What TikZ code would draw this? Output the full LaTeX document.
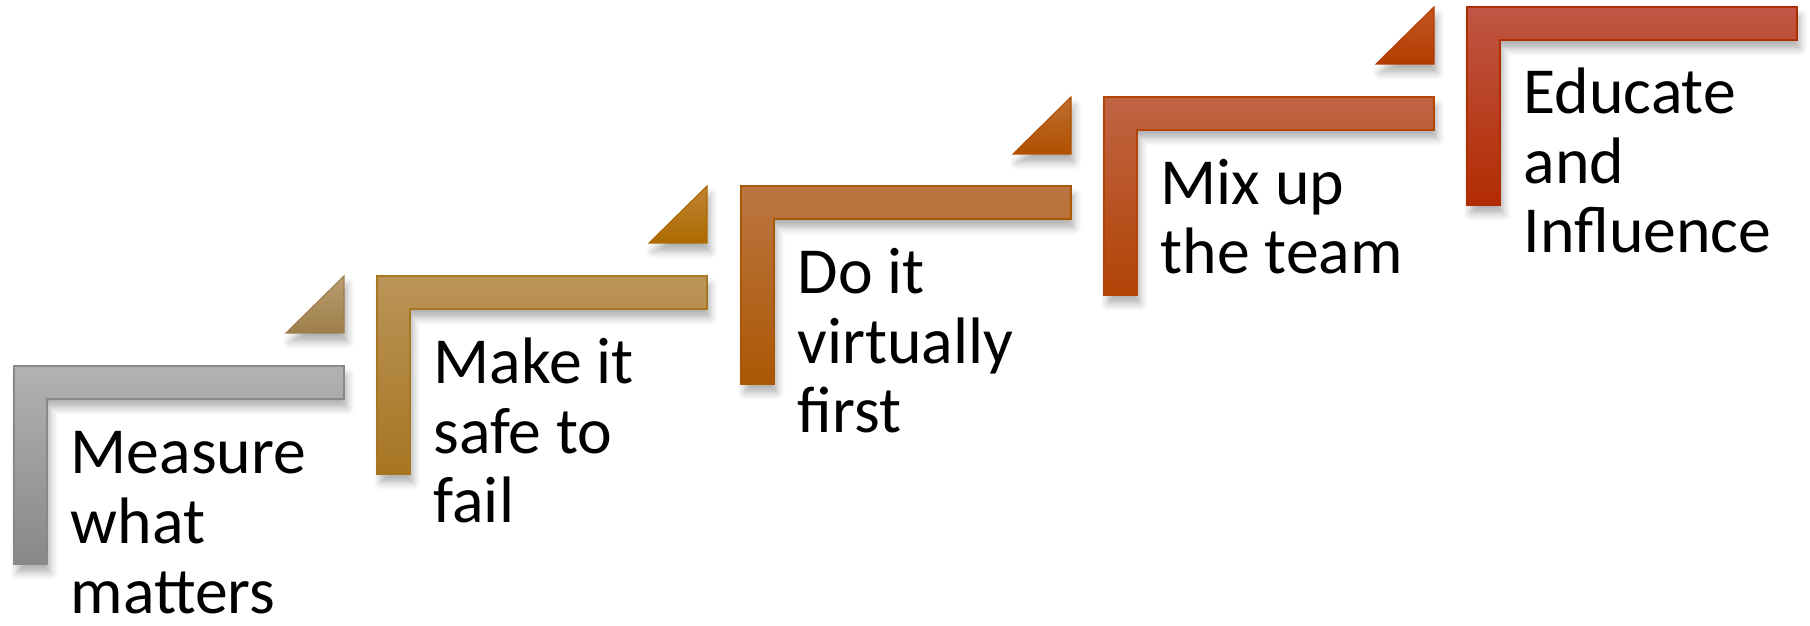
\documentclass[tikz,border=0pt]{standalone}
\usepackage{fontspec}
\setmainfont{Carlito}
\usepackage{tikz}
\usetikzlibrary{shadows.blur}

\definecolor{grayTop}{RGB}{178,178,178}
\definecolor{grayBot}{RGB}{136,136,136}
\definecolor{goldTop}{RGB}{187,148,88}
\definecolor{goldBot}{RGB}{166,118,34}
\definecolor{amberTop}{RGB}{188,118,66}
\definecolor{amberBot}{RGB}{170,88,4}
\definecolor{rustTop}{RGB}{192,100,68}
\definecolor{rustBot}{RGB}{178,68,6}
\definecolor{redTop}{RGB}{192,86,68}
\definecolor{redBot}{RGB}{178,44,2}
\definecolor{triOneTop}{RGB}{186,158,112}
\definecolor{triOneBot}{RGB}{158,126,74}
\definecolor{triTwoTop}{RGB}{192,132,52}
\definecolor{triTwoBot}{RGB}{172,106,0}
\definecolor{triThreeTop}{RGB}{190,110,50}
\definecolor{triThreeBot}{RGB}{176,80,0}
\definecolor{triFourTop}{RGB}{194,86,36}
\definecolor{triFourBot}{RGB}{180,60,0}

\begin{document}
\begin{tikzpicture}[x=0.1mm, y=-0.1mm,
		stair/.style 2 args={top color=#1, bottom color=#2, draw=#2, line width=0.3pt,
			blur shadow={shadow xshift=1pt, shadow yshift=-2.5pt, shadow blur radius=2pt, shadow opacity=30, shadow blur steps=6}},
		steptext/.style={anchor=base west, inner sep=0pt, align=left, font=\fontsize{18.7pt}{19.9pt}\selectfont}]
		\useasboundingbox (0,0) rectangle (1810,626);
		% Step 1 (text anchored at the baseline of its last line)
		\path[stair={grayTop}{grayBot}] (14,366) -- (344,366) -- (344,399) -- (47,399) -- (47,564) -- (14,564) -- cycle;
		\node[steptext] (measure) at (70,613) {Measure\\what\\matters};
		% Step 2
		\path[stair={triOneTop}{triOneBot}] (286,333) -- (344,333) -- (344,276) -- cycle;
		\path[stair={goldTop}{goldBot}] (377,276) -- (707,276) -- (707,309) -- (410,309) -- (410,474) -- (377,474) -- cycle;
		\node[steptext] (safe) at (433,523) {Make it\\safe to\\fail};
		% Step 3
		\path[stair={triTwoTop}{triTwoBot}] (649,243) -- (707,243) -- (707,186) -- cycle;
		\path[stair={amberTop}{amberBot}] (741,186) -- (1071,186) -- (1071,219) -- (774,219) -- (774,384) -- (741,384) -- cycle;
		\node[steptext] (virtual) at (797,433) {Do it\\virtually\\first};
		% Step 4
		\path[stair={triThreeTop}{triThreeBot}] (1013,154) -- (1071,154) -- (1071,97) -- cycle;
		\path[stair={rustTop}{rustBot}] (1104,97) -- (1434,97) -- (1434,130) -- (1137,130) -- (1137,295) -- (1104,295) -- cycle;
		\node[steptext] (team) at (1160,274) {Mix up\\the team};
		% Step 5
		\path[stair={triFourTop}{triFourBot}] (1376,64) -- (1434,64) -- (1434,7) -- cycle;
		\path[stair={redTop}{redBot}] (1467,7) -- (1797,7) -- (1797,40) -- (1500,40) -- (1500,205) -- (1467,205) -- cycle;
		\node[steptext] (educate) at (1523,253) {Educate\\and\\Influence};
	\end{tikzpicture}
\end{document}
